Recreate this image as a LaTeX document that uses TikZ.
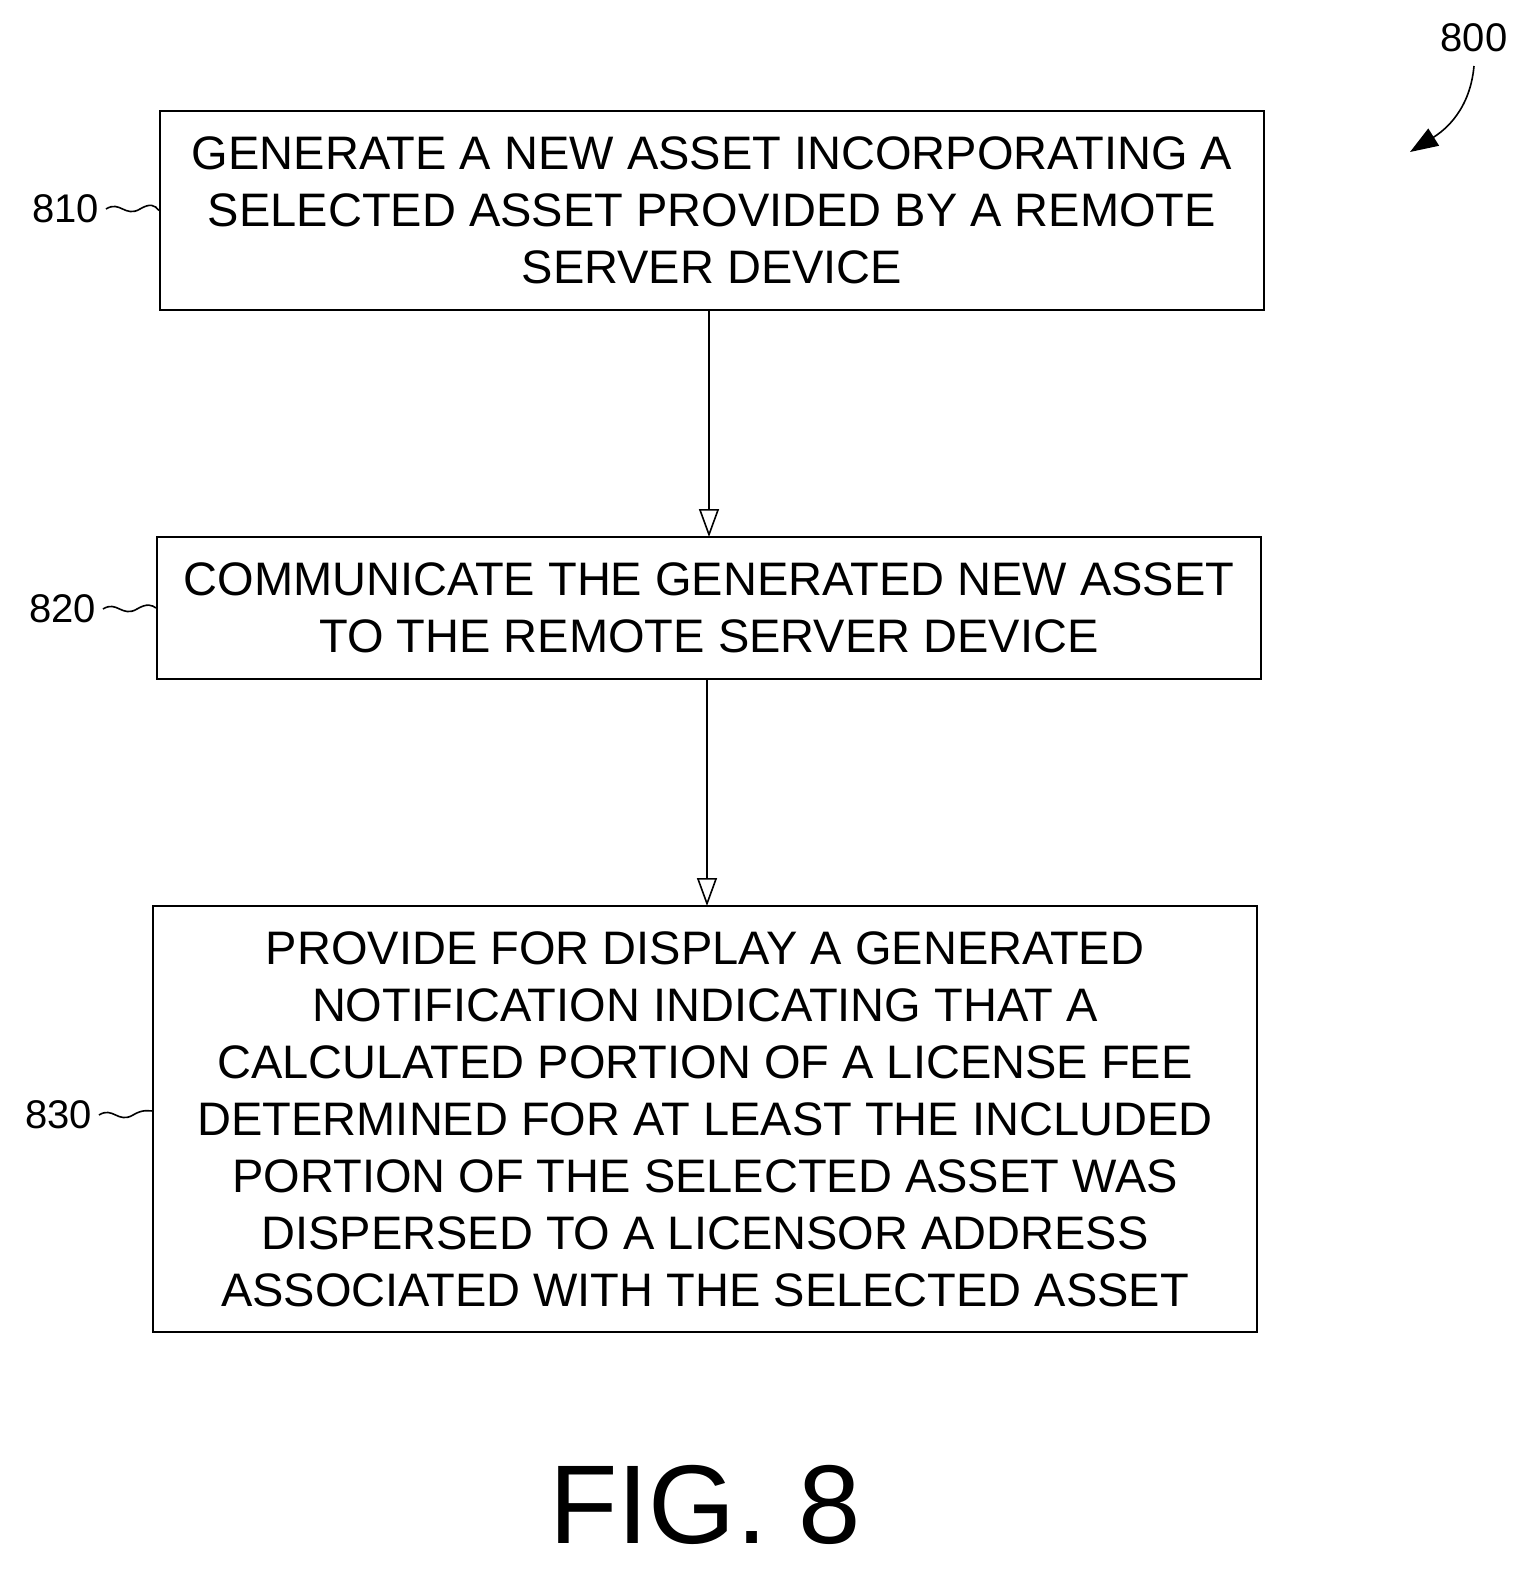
\documentclass[tikz,border=0pt]{standalone}
\usepackage{fontspec}
\setmainfont{Liberation Sans}
\usetikzlibrary{arrows.meta,decorations.pathmorphing}
\begin{document}
\begin{tikzpicture}[x=0.5pt,y=-0.5pt,
 box/.style={draw,line width=1pt,inner sep=0pt,align=center,font=\fontsize{23.5}{28.5}\selectfont},
 lab/.style={font=\fontsize{20}{24}\selectfont,anchor=east},
 arr/.style={line width=0.8pt,-{Triangle[open,length=14pt,width=10pt]}},
 sq/.style={line width=0.8pt}]
\useasboundingbox (0,0) rectangle (1534,1570);
\node[box,minimum width=552pt,minimum height=99.5pt] (b810) at (712,210.5) {GENERATE A NEW ASSET INCORPORATING A\\SELECTED ASSET PROVIDED BY A REMOTE\\SERVER DEVICE};
\node[box,minimum width=552pt,minimum height=71pt] (b820) at (709,608) {COMMUNICATE THE GENERATED NEW ASSET\\TO THE REMOTE SERVER DEVICE};
\node[box,minimum width=552pt,minimum height=213pt] (b830) at (705,1119) {PROVIDE FOR DISPLAY A GENERATED\\NOTIFICATION INDICATING THAT A\\CALCULATED PORTION OF A LICENSE FEE\\DETERMINED FOR AT LEAST THE INCLUDED\\PORTION OF THE SELECTED ASSET WAS\\DISPERSED TO A LICENSOR ADDRESS\\ASSOCIATED WITH THE SELECTED ASSET};
\draw[arr] (b810.south -| 709,0) -- (709,537);
\draw[arr] (b820.south -| 707,0) -- (707,906);
\node[lab] (l810) at (106,209) {810};
\node[lab] (l820) at (103,609) {820};
\node[lab] (l830) at (99,1115) {830};
\draw[sq] (l810.east) .. controls (120,200) and (125,218) .. (140,209) .. controls (150,203) and (155,205) .. (b810.west);
\draw[sq] (l820.east) .. controls (117,600) and (122,618) .. (137,609) .. controls (147,603) and (152,605) .. (b820.west);
\draw[sq] (l830.east) .. controls (113,1106) and (118,1124) .. (133,1115) .. controls (143,1109) and (148,1111) .. (153,1111);
\node[font=\fontsize{20}{24}\selectfont] (l800) at (1474,38) {800};
\coordinate (t800) at (1410,152);
\draw[line width=0.8pt,-{Triangle[length=14pt,width=10pt]}] (1474,66) .. controls (1470,110) and (1445,130) .. (t800);
\node[font=\fontsize{56}{60}\selectfont] (fig) at (705,1505) {FIG. 8};
\end{tikzpicture}
\end{document}
